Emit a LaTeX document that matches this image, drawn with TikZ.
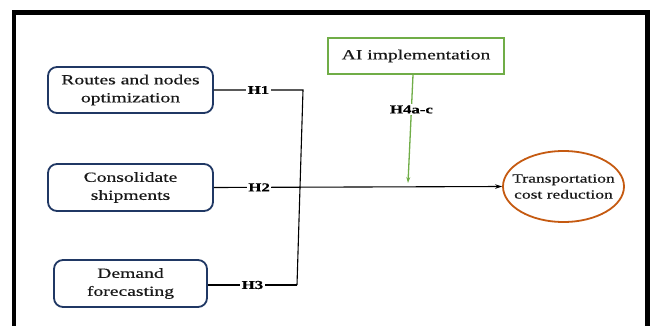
\documentclass[tikz,border=0pt]{standalone}
\usepackage{fontspec}
\setmainfont[FakeStretch=1.4, FakeBold=0.4]{Liberation Serif}
\usetikzlibrary{arrows.meta,shapes.geometric}
\definecolor{navy}{HTML}{203864}
\definecolor{leaf}{HTML}{70AD47}
\definecolor{rust}{HTML}{C55A11}

\begin{document}
\begin{tikzpicture}[x=1pt,y=-1pt,
  factor/.style={draw=navy, line width=1.8pt, rounded corners=9pt, align=center,
    inner sep=0pt, text=black!90, font=\rmfamily\fontsize{14}{18}\selectfont},
  moderator/.style={draw=leaf, line width=1.8pt, align=center, inner sep=0pt,
    text=black!90, font=\rmfamily\fontsize{14}{18}\selectfont},
  outcome/.style={draw=rust, ellipse, line width=1.8pt, align=center,
    inner xsep=-8.5pt, inner ysep=0pt,
    text=black!90, font=\rmfamily\fontsize{12.5}{16}\selectfont},
  hyp/.style={fill=white, text=black, inner sep=1.5pt,
    font=\rmfamily\fontsize{12}{13}\selectfont\bfseries},
  link/.style={line width=1.1pt, black},
  frame/.style={line width=4.5pt, black, line join=miter}
]
\useasboundingbox (0,0) rectangle (653,326);
\fill[white] (0,0) rectangle (653,326);

% outer frame (open at the bottom edge of the page)
\draw[frame] (14,326) -- (14,12.5) -- (647.5,12.5) -- (647.5,326);

% constructs
\node[factor, minimum width=165pt, minimum height=46pt] (routes) at (130.5,90) {Routes and nodes\\optimization};
\node[factor, minimum width=165pt, minimum height=47pt] (consol) at (130.5,187.5) {Consolidate\\shipments};
\node[factor, minimum width=153pt, minimum height=47pt] (demand) at (130.5,283.5) {Demand\\forecasting};
\node[moderator, minimum width=176pt, minimum height=36pt] (ai) at (416,56) {AI implementation};
\node[outcome, minimum width=121pt, minimum height=71pt] (cost) at (563.5,186.5) {Transportation\\cost reduction};

% hypothesised paths
\coordinate (jtop) at (303,90);
\coordinate (jbot) at (297,285);
\coordinate (mod) at (408,183);

\draw[link] (routes.east) -- node[hyp] {H1} (jtop) -- (jbot);
\draw[link] (demand.east |- jbot) -- node[hyp] {H3} (jbot);
\draw[link, -{Stealth[length=7pt,width=4.5pt]}] (consol.east) -- node[hyp, pos=0.157] {H2} (cost.west);
\draw[line width=1.3pt, leaf, -{Stealth[length=6pt,width=4pt]}] (ai.south -| 413,0) -- node[hyp, pos=0.32] {H4a-c} (mod);
\end{tikzpicture}
\end{document}
